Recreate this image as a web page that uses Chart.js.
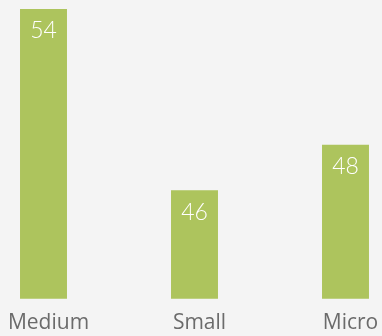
<!DOCTYPE html>
<html>
<head>
<meta charset="utf-8">
<script src="https://cdn.jsdelivr.net/npm/chart.js@4"></script>
<style>
  html, body { margin: 0; padding: 0; background: #f4f4f4; overflow: hidden; }
  #wrap { position: absolute; left: -32px; top: 0; width: 453px; height: 336px; }
</style>
</head>
<body>
<div id="wrap"><canvas id="chart"></canvas></div>
<script>
const categories = ['Medium', 'Small', 'Micro'];
const values = [54, 46, 48];

// value labels written inside the top of each bar
const barLabels = {
  id: 'barLabels',
  afterDatasetsDraw(chart) {
    const ctx = chart.ctx;
    const meta = chart.getDatasetMeta(0);
    ctx.save();
    ctx.fillStyle = '#ffffff';
    ctx.font = '300 23px Lato';
    ctx.textAlign = 'center';
    ctx.textBaseline = 'middle';
    meta.data.forEach((bar, i) => {
      ctx.fillText(values[i], bar.x, bar.y + 22);
    });
    ctx.restore();
  }
};

new Chart(document.getElementById('chart'), {
  type: 'bar',
  data: {
    labels: categories,
    datasets: [{ data: values, backgroundColor: '#adc45d', barPercentage: 0.311, categoryPercentage: 1 }]
  },
  options: {
    responsive: true,
    maintainAspectRatio: false,
    animation: false,
    layout: { padding: { top: 0, left: 0, right: 0, bottom: -12 } },
    plugins: { legend: { display: false }, tooltip: { enabled: false } },
    scales: {
      y: { display: false, min: 41.2, max: 54.4 },
      x: {
        grid: { display: false, drawTicks: false },
        border: { display: false },
        ticks: { color: '#6b6b6b', font: { family: 'Open Sans', size: 21 }, padding: 12, labelOffset: 5 }
      }
    }
  },
  plugins: [barLabels]
});
</script>
</body>
</html>
